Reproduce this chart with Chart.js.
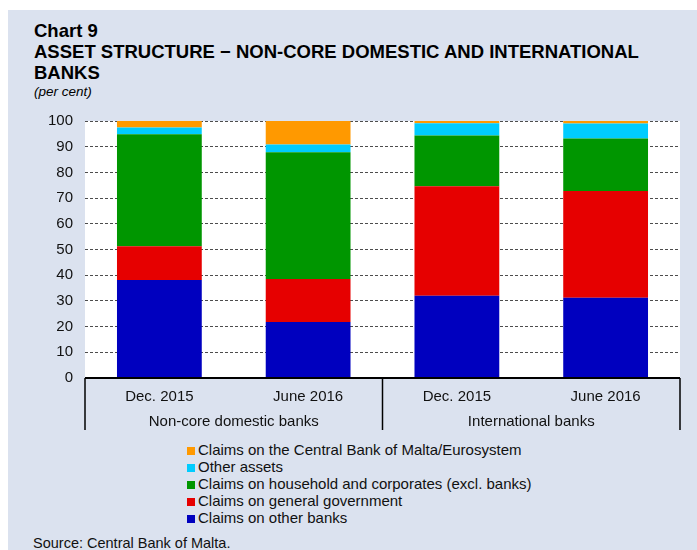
<!DOCTYPE html>
<html>
<head>
<meta charset="utf-8">
<script src="https://cdn.jsdelivr.net/npm/chart.js@4"></script>
<style>
  body { margin: 0; background: #fff; font-family: "Liberation Sans", Arial, sans-serif; }
  #panel { position: absolute; left: 8px; top: 10px; width: 689px; height: 540px; background: #dbe2ef; }
  .t { position: absolute; left: 34px; color: #000; white-space: nowrap; }
  .titulo { font-weight: bold; font-size: 18.5px; }
  #unidad { font-style: italic; font-size: 13.5px; }
  #grafico { position: absolute; left: 0; top: 100px; }
  #leyenda { position: absolute; left: 187px; top: 441px; font-size: 15px; color: #111; }
  #leyenda div { height: 17px; line-height: 17px; white-space: nowrap; }
  #leyenda span { display: inline-block; width: 8px; height: 8px; margin-right: 3px; vertical-align: 0px; }
  #fuente { position: absolute; left: 33px; top: 535px; font-size: 14.5px; color: #111; }
</style>
</head>
<body>
<div id="panel"></div>
<div class="t titulo" style="top:20px">Chart 9</div>
<div class="t titulo" style="top:41px">ASSET STRUCTURE − NON-CORE DOMESTIC AND INTERNATIONAL</div>
<div class="t titulo" style="top:62px">BANKS</div>
<div class="t" id="unidad" style="top:84px">(per cent)</div>
<canvas id="grafico" width="697" height="340"></canvas>
<div id="leyenda"></div>
<div id="fuente">Source: Central Bank of Malta.</div>
<script>
const categorias = ['Dec. 2015', 'June 2016', 'Dec. 2015', 'June 2016'];
const grupos = ['Non-core domestic banks', 'International banks'];
const ticksY = [0, 10, 20, 30, 40, 50, 60, 70, 80, 90, 100];

const otrosBancos = [38.1, 21.8, 32.0, 31.2];
const gobierno = [13.2, 16.7, 42.6, 41.6];
const hogares = [43.5, 49.3, 19.8, 20.4];
const otrosActivos = [2.7, 3.1, 4.7, 5.8];
const bancoCentral = [2.5, 9.1, 0.9, 1.0];

const series = [
  { label: 'Claims on other banks', data: otrosBancos, color: '#0000bf' },
  { label: 'Claims on general government', data: gobierno, color: '#e60000' },
  { label: 'Claims on household and corporates (excl. banks)', data: hogares, color: '#009600' },
  { label: 'Other assets', data: otrosActivos, color: '#00ccff' },
  { label: 'Claims on the Central Bank of Malta/Eurosystem', data: bancoCentral, color: '#ff9900' }
];

const fuente = '"Liberation Sans", Arial, sans-serif';

// leyenda en HTML, en orden inverso al apilado
const leyenda = document.getElementById('leyenda');
series.slice().reverse().forEach(s => {
  const fila = document.createElement('div');
  fila.innerHTML = `<span style="background:${s.color}"></span>${s.label}`;
  leyenda.appendChild(fila);
});

const marcoEjes = {
  id: 'marcoEjes',
  beforeDraw(chart) {
    const { ctx, chartArea } = chart;
    ctx.save();
    ctx.fillStyle = '#fff';
    ctx.fillRect(chartArea.left, chartArea.top, chartArea.right - chartArea.left, chartArea.bottom - chartArea.top);
    ctx.restore();
  },
  afterDraw(chart) {
    const { ctx, chartArea } = chart;
    const x = chart.scales.x;
    const y0 = chart.scales.y.getPixelForValue(0);
    const abajo = y0 + 52;
    ctx.save();
    ctx.strokeStyle = '#000';
    ctx.lineWidth = 2;
    ctx.beginPath();
    ctx.moveTo(chartArea.left, y0);
    ctx.lineTo(chartArea.right, y0);
    ctx.stroke();
    // separadores de grupos
    const paso = (x.getPixelForValue(1) - x.getPixelForValue(0));
    const bordes = [x.getPixelForValue(0) - paso / 2, x.getPixelForValue(1) + paso / 2, x.getPixelForValue(3) + paso / 2];
    ctx.lineWidth = 1.5;
    bordes.forEach(bx => {
      ctx.beginPath();
      ctx.moveTo(bx, y0);
      ctx.lineTo(bx, abajo);
      ctx.stroke();
    });
    ctx.fillStyle = '#111';
    ctx.font = '15px ' + fuente;
    ctx.textAlign = 'center';
    ctx.textBaseline = 'middle';
    grupos.forEach((g, i) => {
      const cx = (bordes[i] + bordes[i + 1]) / 2;
      ctx.fillText(g, cx, y0 + 44);
    });
    ctx.restore();
  }
};

const ctx = document.getElementById('grafico').getContext('2d');
new Chart(ctx, {
  type: 'bar',
  data: {
    labels: categorias,
    datasets: series.map(s => ({
      label: s.label,
      data: s.data,
      backgroundColor: s.color,
      borderWidth: 0,
      barPercentage: 0.57,
      categoryPercentage: 1.0
    }))
  },
  options: {
    responsive: false,
    animation: false,
    layout: { padding: { top: 19, right: 17, left: 0, bottom: 0 } },
    plugins: { legend: { display: false }, tooltip: { enabled: false } },
    scales: {
      x: {
        stacked: true,
        grid: { display: false },
        border: { display: false },
        ticks: { color: '#111', font: { size: 15, family: fuente }, padding: 2, maxRotation: 0 },
        afterFit: s => { s.height = 62; }
      },
      y: {
        stacked: true,
        min: 0,
        max: 100,
        afterBuildTicks: s => { s.ticks = ticksY.map(v => ({ value: v })); },
        grid: { color: '#4d4d4d', drawTicks: false },
        border: { display: false, dash: [3, 2] },
        ticks: { color: '#111', font: { size: 15, family: fuente }, padding: 12 },
        afterFit: s => { s.width = 85; }
      }
    }
  },
  plugins: [marcoEjes]
});
</script>
</body>
</html>
